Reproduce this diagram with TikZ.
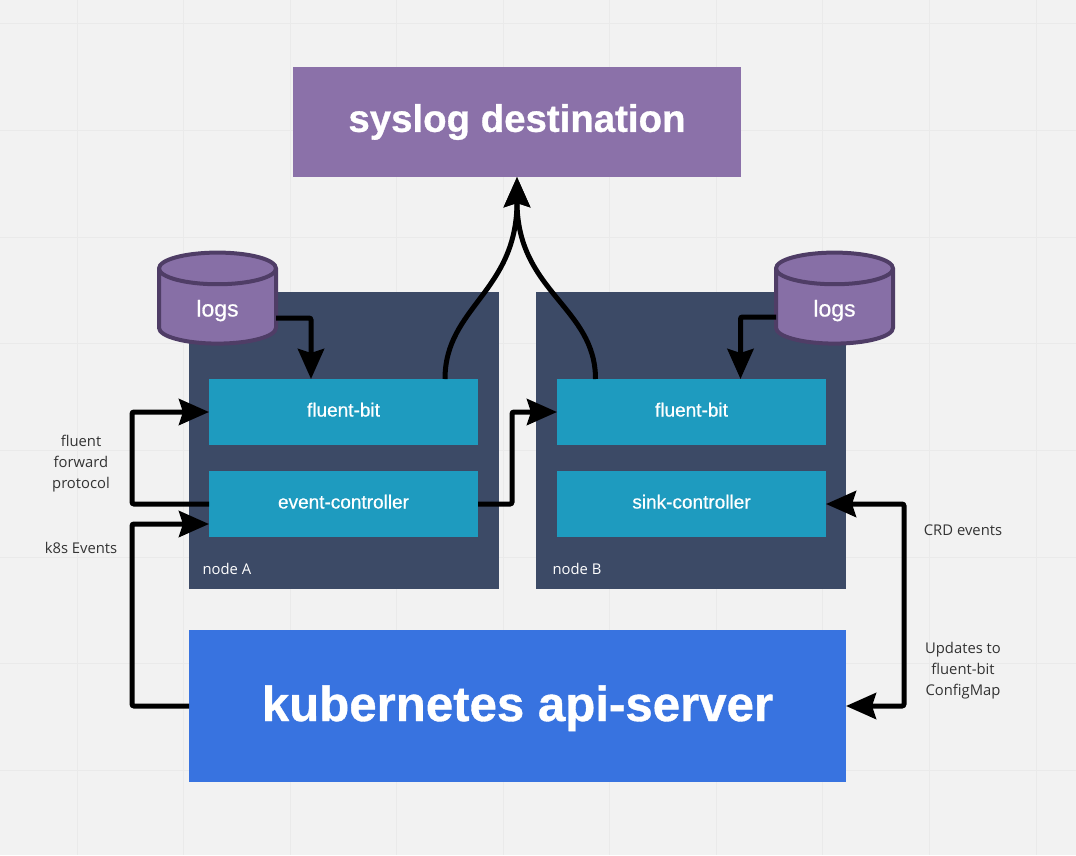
\documentclass[tikz,border=0pt]{standalone}
\usepackage{fontspec}
\setmainfont{Liberation Sans}
\newfontfamily\labelfont{Open Sans}
\newfontfamily\boxfont[FakeBold=0.6]{Liberation Sans}
\newfontfamily\headfont[BoldFeatures={FakeBold=0.8}]{Liberation Sans}
\usetikzlibrary{shapes.geometric, arrows.meta, positioning}
\definecolor{bgpage}{HTML}{F2F2F2}
\definecolor{gridline}{HTML}{EAEAEA}
\definecolor{syslogpurple}{HTML}{8B71A9}
\definecolor{logspurple}{HTML}{876FA6}
\definecolor{logsborder}{HTML}{4F3D66}
\definecolor{nodenavy}{HTML}{3C4A66}
\definecolor{boxteal}{HTML}{1E9BBF}
\definecolor{apiblue}{HTML}{3873E0}
\definecolor{textdark}{HTML}{333333}
\tikzset{
    hostbox/.style={fill=nodenavy, inner sep=0pt, outer sep=0pt, minimum width=310pt, minimum height=297pt},
    procbox/.style={fill=boxteal, inner sep=0pt, outer sep=0pt, minimum width=269pt, minimum height=66pt,
                    text=white, text height=14pt, text depth=5pt, font=\boxfont\fontsize{19}{22}\selectfont},
    logsdb/.style={cylinder, shape border rotate=90, aspect=0.75, draw=logsborder, line width=4pt,
                   cylinder uses custom fill, cylinder body fill=logspurple, cylinder end fill=logspurple,
                   inner sep=0pt, outer sep=0pt, minimum width=117pt, minimum height=91pt,
                   text=white, text height=24pt, text depth=5pt, font=\boxfont\fontsize{23}{26}\selectfont},
    note/.style={text=textdark, align=center, font=\labelfont\fontsize{14.8}{21}\selectfont},
    link/.style={draw=black, line width=5pt, rounded corners=2pt, -{Stealth[length=30pt, width=26pt, inset=4pt]}},
    biglink/.style={link, {Stealth[length=30pt, width=26pt, inset=4pt]}-{Stealth[length=30pt, width=26pt, inset=4pt]}}
}

\begin{document}
\begin{tikzpicture}[x=1pt, y=-1pt]
    \useasboundingbox (0,0) rectangle (1076,855);
    \fill[bgpage] (0,0) rectangle (1076,855);
    % board grid
    \foreach \gx in {77,183.5,290,396.5,503,609.5,716,822.5,929,1036}
        \draw[gridline, line width=1pt] (\gx,0) -- (\gx,855);
    \foreach \gy in {23.5,130,237,343.5,450,557,663.5,770}
        \draw[gridline, line width=1pt] (0,\gy) -- (1076,\gy);

    \node[fill=syslogpurple, inner sep=0pt, outer sep=0pt, minimum width=448pt, minimum height=110pt,
          text=white, font=\headfont\bfseries\fontsize{38.4}{44}\selectfont] (syslog) at (517,122) {syslog destination};

    \node[hostbox] (nodeA) at (344,440.5) {};
    \node[hostbox, right=37pt of nodeA] (nodeB) {};

    \node[procbox] (fluentA) at (343.5,412) {fluent-bit};
    \node[procbox, below=26pt of fluentA] (eventctl) {event-controller};
    \node[procbox, right=79pt of fluentA] (fluentB) {fluent-bit};
    \node[procbox, below=26pt of fluentB] (sinkctl) {sink-controller};

    \node[note, text=white, anchor=west] (labelA) at (199,569) {node A};
    \node[note, text=white, anchor=west] (labelB) at (549,569) {node B};

    \node[fill=apiblue, inner sep=0pt, outer sep=0pt, minimum width=657pt, minimum height=152pt,
          text=white, text height=40pt, text depth=10pt,
          font=\headfont\bfseries\fontsize{49.2}{56}\selectfont] (apiserver) at (517.5,706) {kubernetes api-server};

    \node[logsdb] (logsA) at (217.5,307) {logs};
    \node[logsdb] (logsB) at (834.5,307) {logs};

    \node[note] (fwdnote) at (81,464) {fluent\\forward\\protocol};
    \node[note] (k8snote) at (81,548) {k8s Events};
    \node[note] (crdnote) at (963,530) {CRD events};
    \node[note] (cfgnote) at (963,671) {Updates to\\fluent-bit\\ConfigMap};

    \draw[link] ([yshift=-11pt]logsA.east) -| ([xshift=-32.5pt]fluentA.north);
    \draw[link] ([yshift=-10pt]logsB.west) -| ([xshift=49pt]fluentB.north);

    \draw[link] (eventctl.west) -- ++(-77,0) |- (fluentA.west);
    \draw[link] (apiserver.west) -- ++(-57,0) |- ([yshift=-20pt]eventctl.west);
    \draw[link] (eventctl.east) -- ++(34,0) |- (fluentB.west);
    \draw[biglink] (sinkctl.east) -- ++(78,0) |- (apiserver.east);

    \draw[link, rounded corners=0pt] ([xshift=101.5pt]fluentA.north) .. controls +(0,-72) and +(0,115) .. (syslog.south);
    \draw[link, rounded corners=0pt] ([xshift=-96pt]fluentB.north) .. controls +(0,-72) and +(0,115) .. (syslog.south);
\end{tikzpicture}
\end{document}
